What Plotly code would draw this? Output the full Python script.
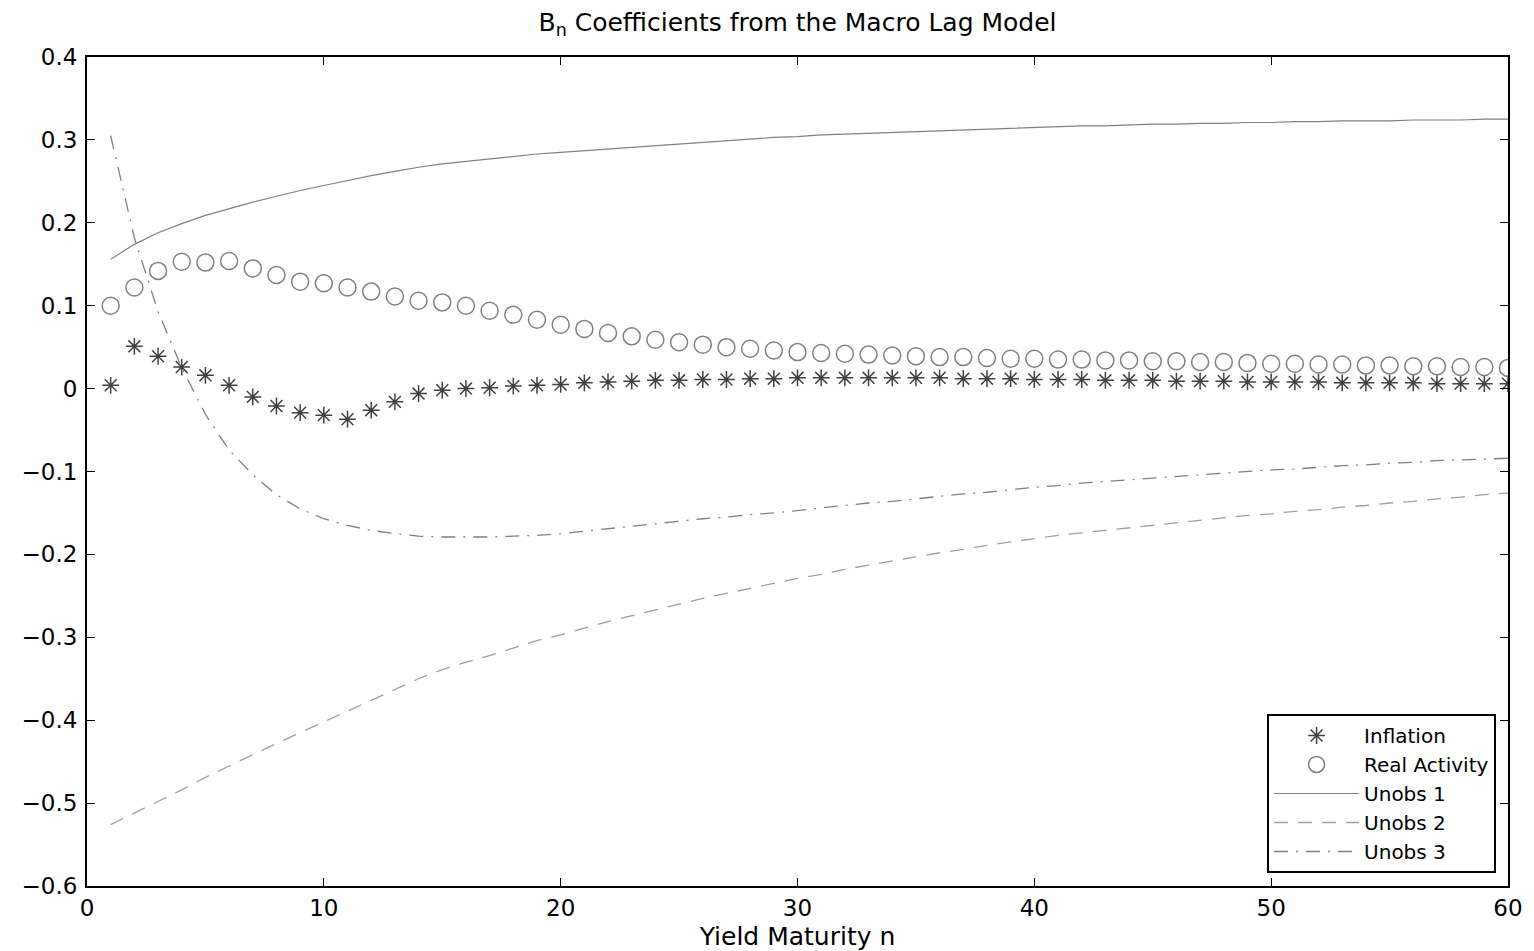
import plotly.graph_objects as go

n = list(range(1, 61))

inflation = [0.004, 0.051, 0.039, 0.026, 0.016, 0.004, -0.010, -0.021, -0.029, -0.032,
             -0.037, -0.026, -0.016, -0.006, -0.002, 0.000, 0.001, 0.003, 0.004, 0.005,
             0.007, 0.008, 0.009, 0.010, 0.010, 0.011, 0.011, 0.012, 0.012, 0.013,
             0.013, 0.013, 0.013, 0.013, 0.013, 0.013, 0.012, 0.012, 0.012, 0.011,
             0.011, 0.011, 0.010, 0.010, 0.010, 0.009, 0.009, 0.009, 0.008, 0.008,
             0.008, 0.008, 0.007, 0.007, 0.007, 0.007, 0.006, 0.006, 0.006, 0.006]

real_activity = [0.100, 0.122, 0.142, 0.153, 0.152, 0.154, 0.145, 0.137, 0.129, 0.127,
                 0.122, 0.117, 0.111, 0.106, 0.104, 0.100, 0.094, 0.089, 0.083, 0.077,
                 0.072, 0.067, 0.063, 0.059, 0.056, 0.053, 0.050, 0.048, 0.046, 0.044,
                 0.043, 0.042, 0.041, 0.040, 0.039, 0.038, 0.038, 0.037, 0.036, 0.036,
                 0.035, 0.035, 0.034, 0.034, 0.033, 0.033, 0.032, 0.032, 0.031, 0.030,
                 0.030, 0.029, 0.029, 0.028, 0.028, 0.027, 0.027, 0.026, 0.026, 0.025]

unobs1 = [0.156, 0.174, 0.188, 0.199, 0.209, 0.217, 0.225, 0.232, 0.239, 0.245,
          0.251, 0.257, 0.262, 0.267, 0.271, 0.274, 0.277, 0.280, 0.283, 0.285,
          0.287, 0.289, 0.291, 0.293, 0.295, 0.297, 0.299, 0.301, 0.303, 0.304,
          0.306, 0.307, 0.308, 0.309, 0.310, 0.311, 0.312, 0.313, 0.314, 0.315,
          0.316, 0.317, 0.317, 0.318, 0.319, 0.319, 0.320, 0.320, 0.321, 0.321,
          0.322, 0.322, 0.323, 0.323, 0.323, 0.324, 0.324, 0.324, 0.325, 0.325]

unobs2 = [-0.526, -0.512, -0.498, -0.484, -0.469, -0.455, -0.441, -0.428, -0.415, -0.402,
          -0.389, -0.376, -0.363, -0.350, -0.339, -0.330, -0.322, -0.313, -0.304, -0.297,
          -0.289, -0.281, -0.274, -0.267, -0.260, -0.253, -0.247, -0.241, -0.235, -0.229,
          -0.224, -0.218, -0.213, -0.208, -0.203, -0.198, -0.194, -0.189, -0.185, -0.181,
          -0.177, -0.174, -0.171, -0.168, -0.165, -0.162, -0.159, -0.156, -0.153, -0.151,
          -0.148, -0.146, -0.143, -0.141, -0.138, -0.136, -0.133, -0.131, -0.128, -0.126]

unobs3 = [0.305, 0.182, 0.093, 0.025, -0.031, -0.074, -0.104, -0.128, -0.145, -0.157,
          -0.165, -0.171, -0.175, -0.178, -0.179, -0.179, -0.179, -0.178, -0.177, -0.175,
          -0.172, -0.169, -0.166, -0.163, -0.160, -0.157, -0.155, -0.152, -0.150, -0.147,
          -0.144, -0.141, -0.138, -0.136, -0.133, -0.130, -0.127, -0.125, -0.122, -0.119,
          -0.117, -0.114, -0.112, -0.110, -0.108, -0.106, -0.104, -0.102, -0.100, -0.098,
          -0.097, -0.095, -0.093, -0.092, -0.090, -0.089, -0.087, -0.086, -0.085, -0.084]

gray = "#808080"
dark = "#404040"
FONT = "DejaVu Sans, Liberation Sans, Arial, sans-serif"

fig = go.Figure()
fig.add_trace(go.Scatter(x=n, y=inflation, mode="markers", name="Inflation",
                         marker=dict(symbol="asterisk-open", size=14, color=dark,
                                     line=dict(color=dark, width=1.5))))
fig.add_trace(go.Scatter(x=n, y=real_activity, mode="markers", name="Real Activity",
                         marker=dict(symbol="circle-open", size=17, color=gray,
                                     line=dict(color=gray, width=1.5))))
fig.add_trace(go.Scatter(x=n, y=unobs1, mode="lines", name="Unobs 1",
                         line=dict(color=gray, width=1.2, dash="solid")))
fig.add_trace(go.Scatter(x=n, y=unobs2, mode="lines", name="Unobs 2",
                         line=dict(color="#a0a0a0", width=1.3, dash="14px,10px")))
fig.add_trace(go.Scatter(x=n, y=unobs3, mode="lines", name="Unobs 3",
                         line=dict(color=gray, width=1.3, dash="14px,8px,2px,8px")))

axis_common = dict(showline=True, linecolor="black", linewidth=2, mirror="ticks",
                   ticks="inside", ticklen=8, tickwidth=1, tickcolor="black",
                   showgrid=False, zeroline=False, automargin=False,
                   tickfont=dict(family=FONT, size=23, color="black"))

W, H = 1526, 943

fig.update_layout(
    width=W, height=H,
    paper_bgcolor="white", plot_bgcolor="white",
    margin=dict(l=79, r=26, t=49, b=65),
    font=dict(family=FONT, color="black"),
    title=dict(text="B<sub>n</sub> Coefficients from the Macro Lag Model",
               x=(79 + 1500) / 2 / W, xanchor="center",
               y=1 - 14 / H, yanchor="middle",
               font=dict(size=25, color="black")),
    xaxis=dict(range=[0, 60], dtick=10, tick0=0,
               title=dict(text="Yield Maturity n", font=dict(size=25), standoff=8),
               **axis_common),
    yaxis=dict(range=[-0.6, 0.4], dtick=0.1, tick0=0, ticklabelstandoff=3, **axis_common),
    showlegend=True,
    legend=dict(x=0.9916, y=0.0157, xanchor="right", yanchor="bottom",
                bordercolor="black", borderwidth=2, bgcolor="white",
                font=dict(size=20, color="black", family=FONT), tracegroupgap=0,
                itemwidth=85),
)

fig.write_html("out.html")
